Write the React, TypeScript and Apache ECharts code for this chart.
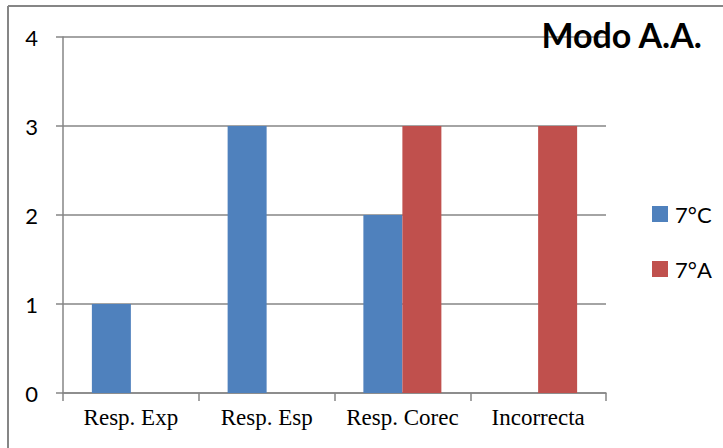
import React, { useEffect, useRef } from "react";
import * as echarts from "echarts";

// Categories and values for the "Modo A.A." comparison
const categories = ["Resp. Exp", "Resp. Esp", "Resp. Corec", "Incorrecta"];
const seriesNames = ["7°C", "7°A"];
const values7C = [1, 3, 2, 0];
const values7A = [0, 0, 3, 3];
const yTicks = [0, 1, 2, 3, 4];

const BLUE = "#4F81BD";
const RED = "#C0504D";
const GRID_GRAY = "#868686";
const SANS = "Lato, 'Open Sans', sans-serif";
const SERIF = "'Liberation Serif', 'DejaVu Serif', serif";

export default function App() {
  const ref = useRef<HTMLDivElement>(null);

  useEffect(() => {
    if (!ref.current) return;
    const chart = echarts.init(ref.current, undefined, { renderer: "svg" });
    chart.setOption({
      animation: false,
      backgroundColor: "#ffffff",
      title: {
        text: "Modo A.A.",
        right: 15,
        top: 12,
        textStyle: {
          fontFamily: SANS,
          fontWeight: "bold",
          fontSize: 34,
          color: "#000000",
        },
      },
      legend: {
        orient: "vertical",
        left: 647,
        top: 198,
        itemWidth: 16,
        itemHeight: 16,
        itemGap: 33,
        icon: "rect",
        data: seriesNames,
        textStyle: {
          fontFamily: SANS,
          fontSize: 22,
          color: "#000000",
          lineHeight: 16,
          padding: [0, 0, 0, 2],
        },
      },
      grid: {
        left: 63,
        right: 117,
        top: 37,
        bottom: 55,
        containLabel: false,
      },
      xAxis: {
        type: "category",
        data: categories,
        axisLine: { show: true, lineStyle: { color: GRID_GRAY, width: 1.5 } },
        axisTick: {
          show: true,
          alignWithLabel: false,
          length: 8,
          lineStyle: { color: GRID_GRAY, width: 1.5 },
        },
        axisLabel: {
          interval: 0,
          fontFamily: SERIF,
          fontSize: 23,
          color: "#000000",
          margin: 13,
        },
      },
      yAxis: {
        type: "value",
        min: yTicks[0],
        max: yTicks[yTicks.length - 1],
        interval: 1,
        axisLine: { show: true, lineStyle: { color: GRID_GRAY, width: 1.5 } },
        axisTick: {
          show: true,
          inside: false,
          length: 7,
          lineStyle: { color: GRID_GRAY, width: 1.5 },
        },
        splitLine: { show: true, lineStyle: { color: GRID_GRAY, width: 1.5 } },
        axisLabel: {
          fontFamily: SANS,
          fontSize: 22,
          color: "#000000",
          margin: 25,
        },
      },
      series: [
        {
          name: seriesNames[0],
          type: "bar",
          data: values7C,
          barWidth: 39,
          barGap: "0%",
          itemStyle: { color: BLUE },
        },
        {
          name: seriesNames[1],
          type: "bar",
          data: values7A,
          barWidth: 39,
          barGap: "0%",
          itemStyle: { color: RED },
        },
      ],
      graphic: [
        {
          type: "line",
          shape: { x1: 8, y1: 6, x2: 723, y2: 6 },
          style: { stroke: GRID_GRAY, lineWidth: 2 },
          silent: true,
        },
        {
          type: "line",
          shape: { x1: 8, y1: 6, x2: 8, y2: 448 },
          style: { stroke: GRID_GRAY, lineWidth: 2 },
          silent: true,
        },
      ],
    });
    return () => chart.dispose();
  }, []);

  return (
    <div
      ref={ref}
      style={{ position: "fixed", left: 0, top: 0, width: 723, height: 448 }}
    />
  );
}
